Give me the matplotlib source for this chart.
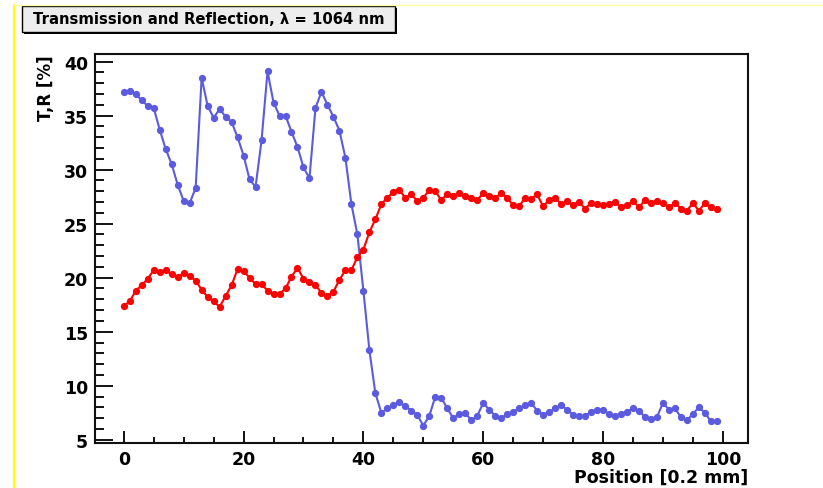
import numpy as np
import matplotlib.pyplot as plt
from matplotlib.patches import Rectangle
from matplotlib.lines import Line2D
from matplotlib.ticker import MultipleLocator

plt.rcParams['font.family'] = ['DejaVu Sans']
plt.rcParams['font.weight'] = 'bold'

# scan positions in units of 0.2 mm
position = np.arange(100)

transmission = [
    37.2, 37.3, 37.0, 36.4, 35.9, 35.7, 33.7, 31.9, 30.5, 28.6,
    27.1, 26.9, 28.3, 38.5, 35.9, 34.8, 35.6, 34.9, 34.4, 33.0,
    31.3, 29.1, 28.4, 32.7, 39.1, 36.2, 35.0, 35.0, 33.5, 32.1,
    30.2, 29.2, 35.7, 37.2, 36.0, 34.9, 33.6, 31.1, 26.8, 24.0,
    18.8, 13.3, 9.3, 7.5, 7.9, 8.2, 8.5, 8.1, 7.7, 7.3,
    6.3, 7.2, 9.0, 8.9, 7.9, 7.0, 7.4, 7.5, 6.8, 7.2,
    8.4, 7.8, 7.2, 7.0, 7.4, 7.6, 7.9, 8.2, 8.4, 7.7,
    7.3, 7.6, 7.9, 8.2, 7.8, 7.3, 7.2, 7.2, 7.6, 7.8,
    7.8, 7.4, 7.2, 7.4, 7.6, 7.9, 7.7, 7.1, 6.9, 7.1,
    8.4, 7.8, 7.9, 7.1, 6.8, 7.4, 8.0, 7.5, 6.7, 6.7,
]

reflection = [
    17.4, 17.8, 18.8, 19.3, 19.9, 20.7, 20.5, 20.7, 20.3, 20.1,
    20.4, 20.2, 19.7, 18.9, 18.2, 17.8, 17.3, 18.3, 19.3, 20.8,
    20.6, 20.0, 19.4, 19.4, 18.8, 18.5, 18.5, 19.0, 20.1, 20.9,
    19.9, 19.6, 19.3, 18.6, 18.3, 18.7, 19.8, 20.7, 20.7, 21.9,
    22.6, 24.2, 25.4, 26.8, 27.4, 27.9, 28.1, 27.4, 27.7, 27.1,
    27.4, 28.1, 28.0, 27.2, 27.7, 27.6, 27.8, 27.6, 27.4, 27.2,
    27.8, 27.6, 27.4, 27.8, 27.4, 26.7, 26.6, 27.4, 27.3, 27.7,
    26.6, 27.2, 27.4, 26.8, 27.1, 26.7, 27.0, 26.4, 26.9, 26.8,
    26.7, 26.8, 27.0, 26.5, 26.7, 27.1, 26.5, 27.2, 26.9, 27.1,
    26.9, 26.5, 26.9, 26.4, 26.2, 26.9, 26.2, 26.9, 26.5, 26.4,
]

W, H = 823, 489
fig = plt.figure(figsize=(W / 100, H / 100), dpi=100)
ax = fig.add_axes([95 / W, 1 - 444 / H, (748 - 95) / W, (444 - 55) / H])

ax.plot(position, transmission, '-o', color='#5b5be0', lw=1.5, ms=4.2,
        mec='#5b5be0', zorder=3)
ax.plot(position, reflection, '-o', color='#ff0000', lw=1.5, ms=4.2,
        mec='#ff0000', zorder=3)

ax.set_xlim(-4.8, 104.2)
ax.set_ylim(4.7, 40.7)

ax.xaxis.set_major_locator(MultipleLocator(20))
ax.xaxis.set_minor_locator(MultipleLocator(5))
ax.yaxis.set_major_locator(MultipleLocator(5))
ax.yaxis.set_minor_locator(MultipleLocator(1))

ax.tick_params(axis='both', which='both', direction='in', width=1.3,
               color='black', labelsize=12.5)
ax.tick_params(axis='x', which='major', length=8.5, pad=5)
ax.tick_params(axis='x', which='minor', length=4.3)
ax.tick_params(axis='y', which='major', length=13, pad=5)
ax.tick_params(axis='y', which='minor', length=6.5)
for lab in ax.get_xticklabels() + ax.get_yticklabels():
    lab.set_fontweight('bold')

for side in ax.spines.values():
    side.set_linewidth(1.5)
    side.set_color('#111111')

ax.set_xlabel('Position [0.2 mm]', fontsize=12.5, fontweight='bold',
              loc='right', labelpad=0)
ax.set_ylabel('T,R [%]', fontsize=12, fontweight='bold',
              loc='top', labelpad=6)

# canvas border lines
fig.add_artist(Line2D([14 / W, 14 / W], [0, 1 - 6 / H], transform=fig.transFigure,
                      color='#ffff00', lw=1.5))
fig.add_artist(Line2D([14 / W, 1], [1 - 6 / H, 1 - 6 / H], transform=fig.transFigure,
                      color='#ffffa0', lw=1))

# title box with shadow
bx0, bx1, by0, by1 = 22, 395, 7, 33
fig.add_artist(Rectangle((bx0 / W + 2 / W, 1 - (by1 + 2) / H),
                         (bx1 - bx0) / W, (by1 - by0) / H,
                         transform=fig.transFigure, facecolor='black',
                         edgecolor='black', lw=0))
fig.add_artist(Rectangle((bx0 / W, 1 - by1 / H), (bx1 - bx0) / W, (by1 - by0) / H,
                         transform=fig.transFigure, facecolor='#ededed',
                         edgecolor='black', lw=1))
fig.text((bx0 + bx1) / 2 / W, 1 - (by0 + by1) / 2 / H,
         'Transmission and Reflection, λ = 1064 nm',
         ha='center', va='center', fontsize=10.7, fontweight='bold')

fig.savefig('out.png', dpi=100)
